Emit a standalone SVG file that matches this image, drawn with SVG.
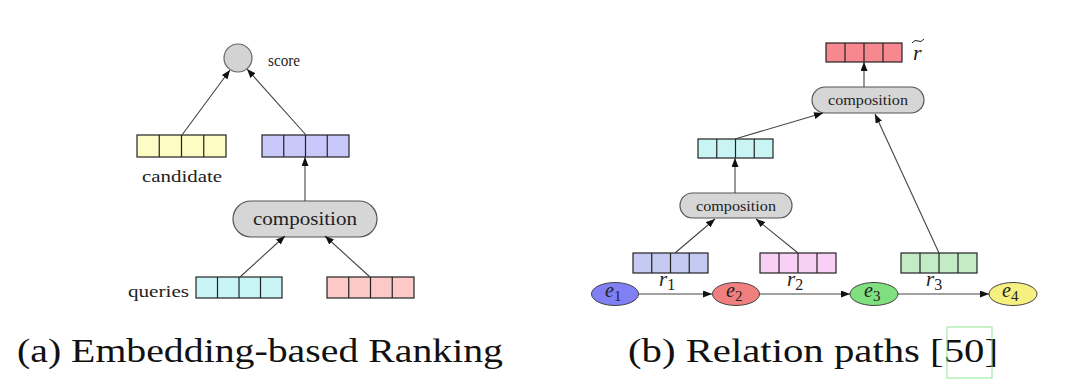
<svg xmlns="http://www.w3.org/2000/svg" width="1080" height="387" viewBox="0 0 1080 387">
<defs>
<style>
.box{stroke:#222;stroke-width:1.2}
.div{stroke:#222;stroke-width:1.2;fill:none}
.pill{fill:#d6d6d6;stroke:#555;stroke-width:1.2}
.lbl{fill:#222}
.math{font-style:italic;fill:#222}
.cap{font-size:34px;fill:#111}
.conn line{stroke:#444;stroke-width:1.1;marker-end:url(#ah)}
</style>
<marker id="ah" markerUnits="userSpaceOnUse" markerWidth="9" markerHeight="7" refX="9" refY="3.5" orient="auto">
<path d="M0,0 L9,3.5 L0,7 z" fill="#111"/>
</marker>
</defs>
<rect width="1080" height="387" fill="#fff"/>

<g font-family="'Liberation Serif', 'DejaVu Serif', serif">
<!-- (a) -->
<g id="score">
<circle cx="238" cy="58" r="14" fill="#d3d3d3" stroke="#666" stroke-width="1.2"/>
<text class="lbl" x="268" y="66" font-size="16" textLength="32" lengthAdjust="spacingAndGlyphs">score</text>
</g>
<g id="candidate">
<rect class="box" x="137" y="135" width="89" height="22" fill="#fcfcc4"/>
<path class="div" d="M159.25,135v22M181.5,135v22M203.75,135v22"/>
<text class="lbl" x="142" y="182" font-size="17" textLength="80" lengthAdjust="spacingAndGlyphs">candidate</text>
</g>
<g id="query-emb">
<rect class="box" x="262" y="135" width="87" height="22" fill="#c8c8fa"/>
<path class="div" d="M283.75,135v22M305.5,135v22M327.25,135v22"/>
</g>
<g id="composition-a">
<rect class="pill" x="233" y="201" width="144" height="36" rx="18"/>
<text class="lbl" x="305" y="225" font-size="19" text-anchor="middle" textLength="104" lengthAdjust="spacingAndGlyphs">composition</text>
</g>
<g id="queries">
<rect class="box" x="196" y="277" width="86" height="21" fill="#c8f4f6"/>
<path class="div" d="M217.5,277v21M239,277v21M260.5,277v21"/>
<text class="lbl" x="128" y="297" font-size="17" textLength="61" lengthAdjust="spacingAndGlyphs">queries</text>
</g>
<g id="red-a">
<rect class="box" x="327" y="277" width="87" height="21" fill="#fcc8c8"/>
<path class="div" d="M348.75,277v21M370.5,277v21M392.25,277v21"/>
</g>

<!-- (b) -->
<g id="rhat">
<rect class="box" x="826" y="43" width="76" height="19" fill="#f88890"/>
<path class="div" d="M845,43v19M864,43v19M883,43v19"/>
<text class="math" x="913" y="60" font-size="22">r</text>
<path d="M912,43 Q915,39 918,41 Q921,43 924,39" fill="none" stroke="#222" stroke-width="1"/>
</g>
<g id="composition-b2">
<rect class="pill" x="812" y="87" width="112" height="26" rx="13"/>
<text class="lbl" x="868" y="105" font-size="15" text-anchor="middle" textLength="80" lengthAdjust="spacingAndGlyphs">composition</text>
</g>
<g id="cyan-b">
<rect class="box" x="698" y="139" width="75" height="19" fill="#c8f4f4"/>
<path class="div" d="M716.75,139v19M735.5,139v19M754.25,139v19"/>
</g>
<g id="composition-b1">
<rect class="pill" x="680" y="193" width="112" height="25" rx="12.5"/>
<text class="lbl" x="736" y="211" font-size="15" text-anchor="middle" textLength="80" lengthAdjust="spacingAndGlyphs">composition</text>
</g>
<g id="r1">
<rect class="box" x="633" y="253" width="75" height="20" fill="#c4caf2"/>
<path class="div" d="M651.75,253v20M670.5,253v20M689.25,253v20"/>
<text class="math" x="659" y="286" font-size="21">r<tspan font-style="normal" font-size="16" dy="4">1</tspan></text>
</g>
<g id="r2">
<rect class="box" x="760" y="253" width="76" height="20" fill="#f8d0f6"/>
<path class="div" d="M779,253v20M798,253v20M817,253v20"/>
<text class="math" x="787" y="286" font-size="21">r<tspan font-style="normal" font-size="16" dy="4">2</tspan></text>
</g>
<g id="r3">
<rect class="box" x="901" y="253" width="76" height="20" fill="#c4ecc4"/>
<path class="div" d="M920,253v20M939,253v20M958,253v20"/>
<text class="math" x="926" y="286" font-size="21">r<tspan font-style="normal" font-size="16" dy="4">3</tspan></text>
</g>
<g id="e1">
<ellipse cx="615" cy="294" rx="23.5" ry="11.5" fill="#8080f4" stroke="#444" stroke-width="1"/>
<text class="math" x="605" y="297" font-size="20">e<tspan font-style="normal" font-size="15" dy="4">1</tspan></text>
</g>
<g id="e2">
<ellipse cx="736" cy="294" rx="23.5" ry="11.5" fill="#f08080" stroke="#444" stroke-width="1"/>
<text class="math" x="726" y="297" font-size="20">e<tspan font-style="normal" font-size="15" dy="4">2</tspan></text>
</g>
<g id="e3">
<ellipse cx="874" cy="294" rx="24" ry="11.5" fill="#80e080" stroke="#444" stroke-width="1"/>
<text class="math" x="864" y="297" font-size="20">e<tspan font-style="normal" font-size="15" dy="4">3</tspan></text>
</g>
<g id="e4">
<ellipse cx="1013" cy="294" rx="24" ry="11.5" fill="#f6f080" stroke="#444" stroke-width="1"/>
<text class="math" x="1002" y="297" font-size="20">e<tspan font-style="normal" font-size="15" dy="4">4</tspan></text>
</g>

<g id="connectors" class="conn">
<line x1="182" y1="135" x2="230" y2="70"/>
<line x1="306" y1="135" x2="247" y2="69"/>
<line x1="305" y1="201" x2="305" y2="157"/>
<line x1="240" y1="277" x2="285" y2="236"/>
<line x1="370" y1="277" x2="325" y2="236"/>
<line x1="864" y1="87" x2="864" y2="62"/>
<line x1="735" y1="139" x2="823" y2="113"/>
<line x1="735" y1="193" x2="735" y2="158"/>
<line x1="675" y1="253" x2="715" y2="219"/>
<line x1="798" y1="253" x2="756" y2="219"/>
<line x1="939" y1="253" x2="875" y2="114"/>
<line x1="639" y1="294" x2="712" y2="294"/>
<line x1="759" y1="294" x2="850" y2="294"/>
<line x1="898" y1="294" x2="989" y2="294"/>
</g>

<g id="captions">
<text class="cap" x="17" y="362" textLength="486" lengthAdjust="spacingAndGlyphs">(a) Embedding-based Ranking</text>
<text class="cap" x="628" y="362" textLength="370" lengthAdjust="spacingAndGlyphs">(b) Relation paths [50]</text>
<rect x="947" y="327" width="45" height="51" fill="none" stroke="#8fe88f" stroke-width="1"/>
</g>
</g>
</svg>
